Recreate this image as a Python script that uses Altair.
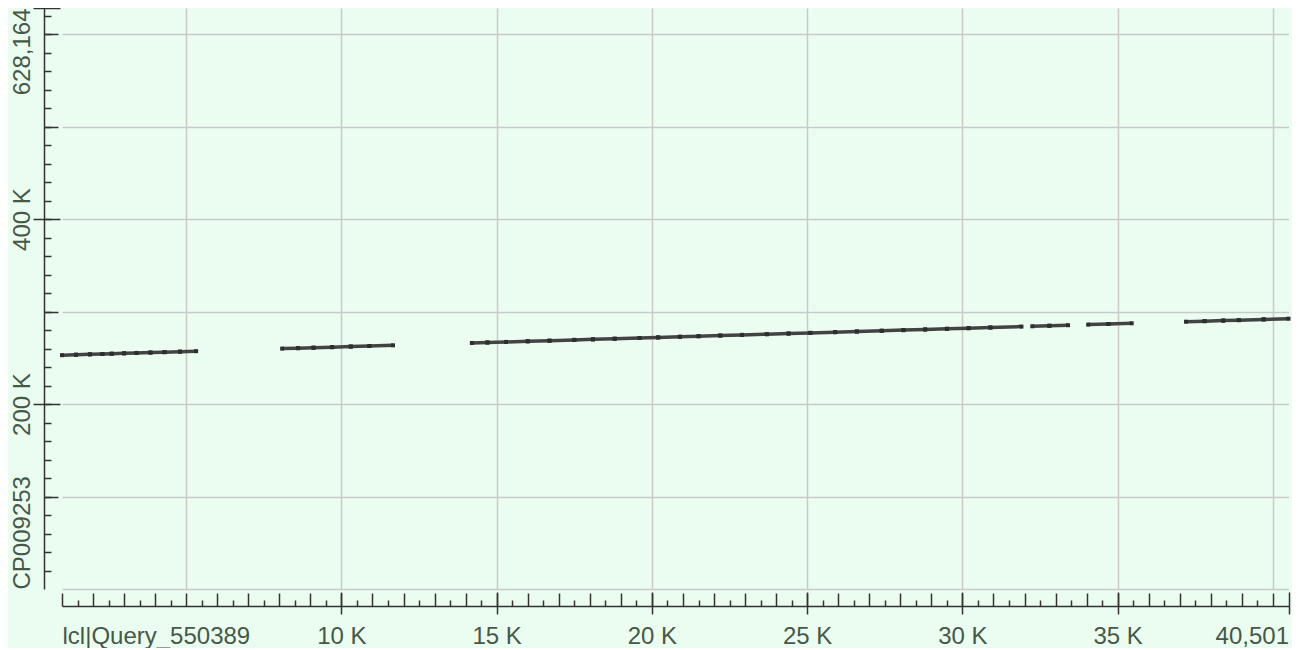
import altair as alt
import pandas as pd

# ---- alignment blocks: breakpoints along query and subject
block_q = [
    [1000, 1450, 1900, 2300, 2600, 3000, 3400, 3850, 4300, 4800, 5320],
    [8090, 8600, 9100, 9700, 10300, 10900, 11660],
    [14200, 14700, 15300, 16000, 16700, 17500, 18100, 18800, 19600, 20200, 20900, 21500,
     22200, 22900, 23700, 24400, 25100, 25900, 26600, 27400, 28100, 28800, 29500, 30200,
     30900, 31900],
    [32250, 32800, 33400],
    [34050, 34700, 35450],
    [37200, 37800, 38400, 38900, 39700, 40501],
]
block_s = [
    [252800, 253250, 253700, 254100, 254400, 254800, 255200, 255650, 256100, 256600, 257120],
    [259890, 260400, 260900, 261500, 262100, 262700, 263460],
    [266000, 266500, 267100, 267800, 268500, 269300, 269900, 270600, 271400, 272000, 272700,
     273300, 274000, 274700, 275500, 276200, 276900, 277700, 278400, 279200, 279900, 280600,
     281300, 282000, 282700, 283700],
    [284050, 284600, 285200],
    [285850, 286500, 287250],
    [289000, 289600, 290200, 290700, 291500, 292301],
]

# ---- axes
x_domain = [1000, 40501]
y_domain = [0, 628164]
x_label_values = [1000, 10000, 15000, 20000, 25000, 30000, 35000, 40501]
x_label_texts = ["lcl|Query_550389", "10 K", "15 K", "20 K", "25 K", "30 K", "35 K", "40,501"]
y_label_values = [0, 200000, 400000, 628164]
y_label_texts = ["CP009253", "200 K", "400 K", "628,164"]
x_grid = [5000, 10000, 15000, 20000, 25000, 30000, 35000, 40000]
y_grid = [0, 100000, 200000, 300000, 400000, 500000, 600000]
x_major = [10000, 15000, 20000, 25000, 30000, 35000, 40501]
x_minor_1k = list(range(1000, 40001, 1000))
x_minor_500 = list(range(1500, 40001, 1000))
y_major = [200000, 400000, 628164]
y_minor_100k = [100000, 300000, 500000, 600000]
y_minor_20k = list(range(20000, 620001, 20000))

BG = "#ebfdf1"
AX = "#333333"
GRID = "#c9c9c9"
LBL = "#465846"
FONT = "Liberation Sans"
FS = 24

rows = []
for qs_list, ss_list in zip(block_q, block_s):
    for i in range(len(qs_list) - 1):
        rows.append({"qs": qs_list[i], "qe": qs_list[i + 1],
                     "ss": ss_list[i], "se": ss_list[i + 1]})
hsp = pd.DataFrame(rows)

xs = alt.Scale(domain=x_domain, nice=False, zero=False)
ys = alt.Scale(domain=y_domain, nice=False, zero=False)


def label_expr(values, texts):
    expr = "''"
    for v, t in reversed(list(zip(values, texts))):
        expr = f"datum.value == {v} ? '{t}' : ({expr})"
    return expr


X_EXPR = label_expr(x_label_values, x_label_texts)
Y_EXPR = label_expr(y_label_values, y_label_texts)


def xl(**kw):
    base = dict(orient="bottom", title=None, domain=False, labels=False, grid=False,
                ticks=False, tickColor=AX, tickWidth=1.5)
    base.update(kw)
    return alt.Chart(hsp).mark_point(opacity=0).encode(
        x=alt.X("qs:Q", scale=xs, axis=alt.Axis(**base)),
        y=alt.Y("ss:Q", scale=ys, axis=None),
    )


def yl(**kw):
    base = dict(orient="left", title=None, domain=False, labels=False, grid=False,
                ticks=False, tickColor=AX, tickWidth=1.5)
    base.update(kw)
    return alt.Chart(hsp).mark_point(opacity=0).encode(
        x=alt.X("qs:Q", scale=xs, axis=None),
        y=alt.Y("ss:Q", scale=ys, axis=alt.Axis(**base)),
    )


def xlab(values, align):
    return xl(values=values, labels=True, tickSize=0, labelPadding=0, offset=54,
              labelBaseline="alphabetic", labelAlign=align, labelFont=FONT,
              labelFontSize=FS, labelColor=LBL, labelOverlap=False, labelLimit=0,
              labelExpr=X_EXPR)


def ylab(values, align):
    return yl(values=values, labels=True, tickSize=0, labelPadding=0, offset=33,
              labelAngle=270, labelBaseline="alphabetic", labelAlign=align, labelFont=FONT,
              labelFontSize=FS, labelColor=LBL, labelOverlap=False, labelLimit=0,
              labelExpr=Y_EXPR)


layers = [
    # grid + axis lines
    xl(values=x_grid, offset=17, domain=True, domainColor=AX, domainWidth=1.5,
       grid=True, gridColor=GRID, gridWidth=1.5),
    yl(values=y_grid, offset=18, domain=True, domainColor=AX, domainWidth=1.5,
       grid=True, gridColor=GRID, gridWidth=1.5),
    # x ticks
    xl(values=x_minor_1k, ticks=True, tickSize=13, offset=4),
    xl(values=x_minor_500, ticks=True, tickSize=6, offset=11),
    xl(values=x_major, ticks=True, tickSize=22, offset=3),
    # y ticks
    yl(values=y_minor_20k, ticks=True, tickSize=7, offset=11),
    yl(values=y_minor_100k, ticks=True, tickSize=14, offset=4),
    yl(values=y_major, ticks=True, tickSize=27, offset=2),
    # labels
    xlab(x_label_values[1:-1], "center"),
    xlab(x_label_values[:1], "left"),
    xlab(x_label_values[-1:], "right"),
    ylab(y_label_values[1:3], "center"),
    ylab(y_label_values[:1], "left"),
    ylab(y_label_values[-1:], "right"),
]

segs = alt.Chart(hsp).mark_rule(strokeWidth=3.5, color="#434343").encode(
    x=alt.X("qs:Q", scale=xs, axis=None), x2="qe:Q",
    y=alt.Y("ss:Q", scale=ys, axis=None), y2="se:Q",
)
starts = alt.Chart(hsp).mark_point(shape="square", filled=True, size=16, color="#2e2e2e",
                                   opacity=1).encode(
    x=alt.X("qs:Q", scale=xs, axis=None), y=alt.Y("ss:Q", scale=ys, axis=None))
ends = alt.Chart(hsp).mark_point(shape="square", filled=True, size=16, color="#2e2e2e",
                                 opacity=1).encode(
    x=alt.X("qe:Q", scale=xs, axis=None), y=alt.Y("se:Q", scale=ys, axis=None))

chart = alt.layer(*layers, segs, starts, ends).resolve_axis(
    x="independent", y="independent"
).properties(
    width=1226.5, height=581,
    background=BG,
    padding={"left": 54, "top": 0, "right": 3.5, "bottom": 59},
    autosize=alt.AutoSizeParams(type="none"),
).configure_view(strokeWidth=0)

chart.save("out.html", embed_options={"renderer": "svg", "actions": False})
